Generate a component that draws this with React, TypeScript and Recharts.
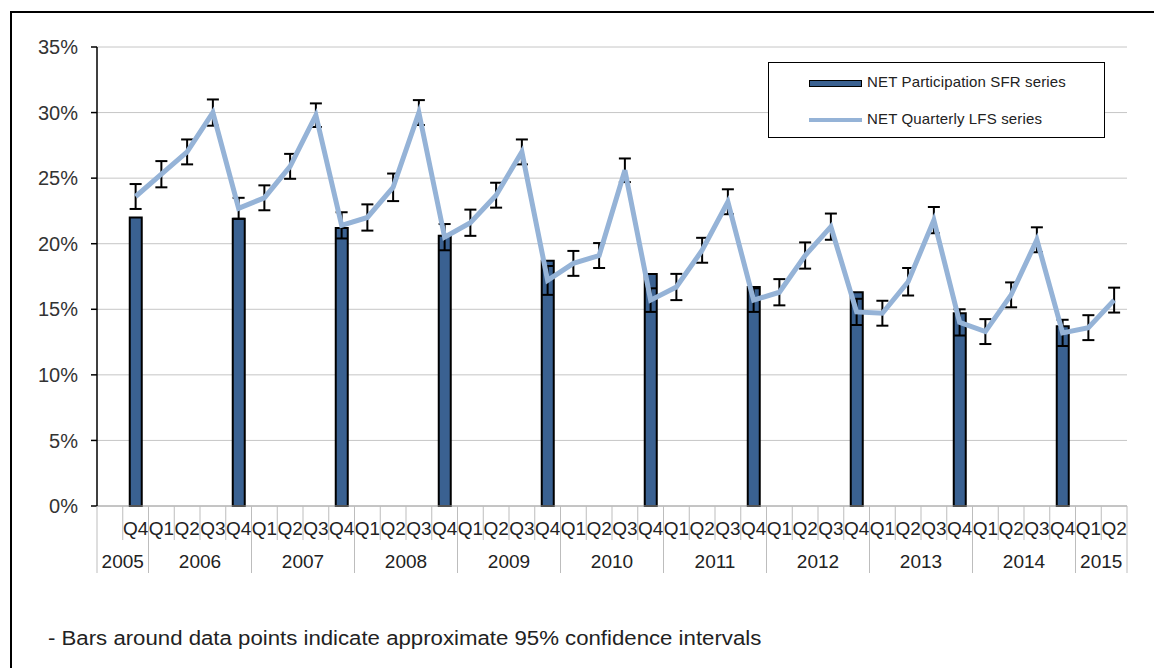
import React from "react";
import {
  Bar,
  CartesianGrid,
  ComposedChart,
  ErrorBar,
  Line,
  XAxis,
  YAxis,
} from "recharts";

// quarter labels, one per category (first slot is an empty Q3 2005)
const quarters = [
  "", "Q4",
  "Q1", "Q2", "Q3", "Q4", // 2006
  "Q1", "Q2", "Q3", "Q4", // 2007
  "Q1", "Q2", "Q3", "Q4", // 2008
  "Q1", "Q2", "Q3", "Q4", // 2009
  "Q1", "Q2", "Q3", "Q4", // 2010
  "Q1", "Q2", "Q3", "Q4", // 2011
  "Q1", "Q2", "Q3", "Q4", // 2012
  "Q1", "Q2", "Q3", "Q4", // 2013
  "Q1", "Q2", "Q3", "Q4", // 2014
  "Q1", "Q2", // 2015
];

const years = ["2005", "2006", "2007", "2008", "2009", "2010", "2011", "2012", "2013", "2014", "2015"];
const yearSpans = [2, 4, 4, 4, 4, 4, 4, 4, 4, 4, 2];

// NET Participation SFR series (Q4 only)
const sfr = [
  null, 22.0,
  null, null, null, 21.9,
  null, null, null, 21.2,
  null, null, null, 20.6,
  null, null, null, 18.7,
  null, null, null, 17.7,
  null, null, null, 16.7,
  null, null, null, 16.3,
  null, null, null, 14.7,
  null, null, null, 13.7,
  null, null,
];

// NET Quarterly LFS series
const lfs = [
  null, 23.6,
  25.3, 27.0, 30.0, 22.7,
  23.5, 25.9, 29.8, 21.4,
  22.0, 24.3, 30.0, 20.5,
  21.6, 23.7, 27.0, 17.2,
  18.5, 19.1, 25.6, 15.7,
  16.7, 19.5, 23.2, 15.7,
  16.3, 19.1, 21.3, 14.8,
  14.7, 17.1, 21.8, 14.0,
  13.3, 16.1, 20.3, 13.2,
  13.6, 15.7,
];

// approximate 95% confidence half-widths
const lfsErr = [
  null, 0.95,
  1.0, 0.95, 1.0, 0.8,
  0.95, 0.95, 0.9, 1.0,
  1.0, 1.05, 0.95, 1.0,
  1.0, 0.95, 0.95, 1.1,
  0.95, 0.95, 0.9, 0.9,
  1.0, 0.95, 0.95, 0.9,
  1.0, 1.0, 1.0, 1.0,
  0.95, 1.05, 1.0, 1.0,
  0.95, 0.95, 0.95, 1.0,
  0.95, 0.95,
];

const yTicks = [0, 5, 10, 15, 20, 25, 30, 35];

// year group start index and label index
const groupStarts: number[] = [];
const yearLabelAt: Record<number, string> = {};
{
  let start = 0;
  yearSpans.forEach((n, i) => {
    groupStarts.push(start);
    yearLabelAt[start + n / 2 - 1] = years[i];
    start += n;
  });
}

const data = quarters.map((q, i) => ({
  key: String(i),
  quarter: q,
  sfr: sfr[i],
  lfs: lfs[i],
  lfsErr: lfsErr[i],
}));

const FONT = "'Liberation Sans', Arial, sans-serif";
const SEP = "#bdbdbd";

const CategoryTick = (props: any) => {
  const { x, y, payload } = props;
  const idx = payload.index;
  const half = payload.offset || 12.875;
  const isStart = groupStarts.includes(idx);
  const isLast = idx === quarters.length - 1;
  const year = yearLabelAt[idx];
  return (
    <g>
      <line x1={x - half} x2={x - half} y1={y} y2={y + (isStart ? 67 : 34)} stroke={SEP} />
      {isLast && <line x1={x + half} x2={x + half} y1={y} y2={y + 67} stroke={SEP} />}
      <text x={x} y={y + 22} dy="0.355em" textAnchor="middle" fontSize={19} fill="#222" fontFamily={FONT}>
        {quarters[idx]}
      </text>
      {year && (
        <text x={x + half} y={y + 55} dy="0.355em" textAnchor="middle" fontSize={19} fill="#222" fontFamily={FONT}>
          {year}
        </text>
      )}
    </g>
  );
};

export default function App() {
  return (
    <div style={{ position: "fixed", inset: 0, overflow: "hidden", background: "#fff" }}>
      <div
        style={{
          position: "absolute",
          left: 10,
          top: 11,
          width: 1200,
          height: 700,
          border: "2px solid #000",
        }}
      />
      <div style={{ position: "absolute", left: 0, top: 0 }}>
        <ComposedChart
          width={1154}
          height={668}
          data={data}
          margin={{ top: 47, right: 27, left: 0, bottom: 82 }}
        >
          <CartesianGrid vertical={false} stroke="#c6c6c6" />
          <XAxis
            dataKey="key"
            type="category"
            interval={0}
            height={80}
            tickSize={0}
            tickMargin={0}
            tickLine={false}
            axisLine={{ stroke: "#a6a6a6" }}
            tick={<CategoryTick />}
          />
          <YAxis
            domain={[0, 35]}
            ticks={yTicks}
            width={97}
            tickSize={6}
            tickMargin={13}
            axisLine={{ stroke: "#000", strokeWidth: 1.5 }}
            tickLine={{ stroke: "#000", strokeWidth: 1.5 }}
            tick={{ fontSize: 20, fill: "#333", fontFamily: FONT }}
            tickFormatter={(v: number) => `${v}%`}
          />
          <Bar
            dataKey="sfr"
            barSize={12}
            fill="#3a6191"
            stroke="#000"
            strokeWidth={2}
            isAnimationActive={false}
          />
          <Line
            dataKey="lfs"
            type="linear"
            stroke="#95b3d7"
            strokeWidth={5}
            dot={false}
            activeDot={false}
            isAnimationActive={false}
          >
            <ErrorBar dataKey="lfsErr" direction="y" width={6} stroke="#000" strokeWidth={2} isAnimationActive={false} />
          </Line>
        </ComposedChart>
      </div>

      {/* legend */}
      <div
        style={{
          position: "absolute",
          left: 768,
          top: 62,
          width: 335,
          height: 74,
          border: "1px solid #000",
          background: "#fff",
          fontFamily: FONT,
          fontSize: 15,
          color: "#222",
        }}
      >
        <div style={{ position: "absolute", left: 40, top: 17, width: 51, height: 5, background: "#3a6191", border: "1px solid #000" }} />
        <div style={{ position: "absolute", left: 98, top: 10, whiteSpace: "nowrap", letterSpacing: 0.15 }}>NET Participation SFR series</div>
        <div style={{ position: "absolute", left: 40, top: 55, width: 53, height: 4, background: "#95b3d7" }} />
        <div style={{ position: "absolute", left: 98, top: 47, whiteSpace: "nowrap", letterSpacing: 0.15 }}>NET Quarterly LFS series</div>
      </div>

      <div
        style={{
          position: "absolute",
          left: 48,
          top: 627,
          fontFamily: FONT,
          fontSize: 20,
          color: "#222",
          whiteSpace: "nowrap",
          transform: "scaleX(1.11)",
          transformOrigin: "left center",
        }}
      >
        - Bars around data points indicate approximate 95% confidence intervals
      </div>
    </div>
  );
}
